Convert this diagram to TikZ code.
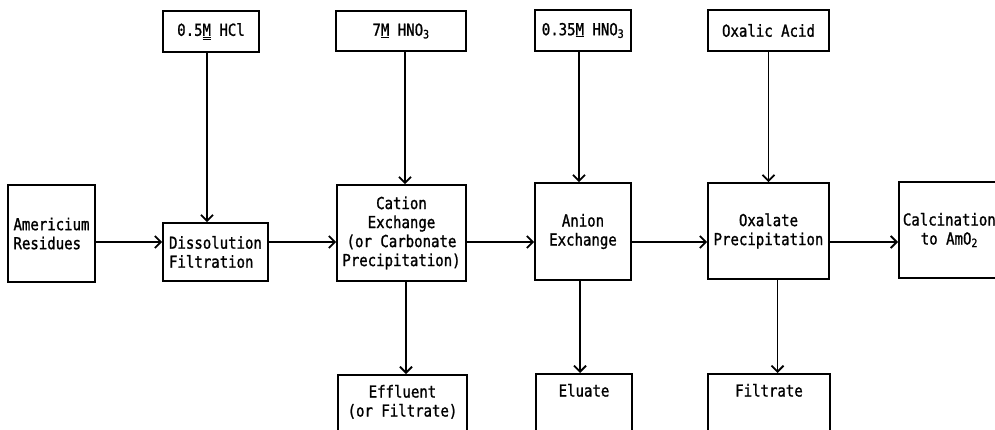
\documentclass[tikz,border=0pt]{standalone}
\usepackage{fontspec}
\usetikzlibrary{arrows.meta}
\newfontfamily\flowfont[FakeStretch=0.85,FakeBold=1.2]{DejaVu Sans Mono}
\tikzset{
  box/.style={draw, line width=1.8pt, align=center, inner sep=3pt,
    font=\flowfont\fontsize{16.5}{19}\selectfont},
  outbox/.style={box, anchor=north, inner ysep=10pt, text depth=60pt},
  flow/.style={-{Straight Barb[length=6pt,width=12pt]}, line width=1.8pt}
}
\begin{document}
\begin{tikzpicture}[x=1pt,y=-1pt]
\useasboundingbox (0,0) rectangle (995,429);
\clip (0,0) rectangle (995,429);
\coordinate (row) at (0,242);
\node[box, minimum width=96pt, minimum height=41pt] (hcl) at (211,31.5) {0.5\underline{\underline{M}} HCl};
\node[box, minimum width=130pt, minimum height=40pt] (hno) at (401,31) {7\underline{M} HNO\textsubscript{3}};
\node[box, minimum width=96pt, minimum height=41pt] (dil) at (583,30.5) {0.35\underline{M} HNO\textsubscript{3}};
\node[box, minimum width=121pt, minimum height=41pt] (oxa) at (768.5,30.5) {Oxalic Acid};
\node[box, align=left, minimum width=87pt, minimum height=97pt] (res) at (51.5,233.5) {Americium\\Residues};
\node[box, align=left, minimum width=105pt, minimum height=58pt] (dis) at (215.5,252) {Dissolution\\Filtration};
\node[box, minimum width=129pt, minimum height=96pt] (cat) at (401.5,233) {Cation\\Exchange\\(or Carbonate\\Precipitation)};
\node[box, minimum width=96pt, minimum height=97pt] (ani) at (583,231.5) {Anion\\Exchange};
\node[box, minimum width=121pt, minimum height=96pt] (oxp) at (768.5,231) {Oxalate\\Precipitation};
\node[box, anchor=west, inner xsep=4pt, minimum height=96pt] (cal) at (898,230) {Calcination\\to AmO\textsubscript{2}};
\node[outbox, minimum width=129pt] (eff) at (402.5,374) {Effluent\\(or Filtrate)};
\node[outbox, minimum width=96pt] (elu) at (584,373) {Eluate};
\node[outbox, minimum width=122pt] (fil) at (769,373) {Filtrate};
\draw[flow] ([xshift=-4pt]hcl.south) -- ([xshift=-4pt]hcl.south |- dis.north);
\draw[flow] ([xshift=4pt]hno.south) -- ([xshift=4pt]hno.south |- cat.north);
\draw[flow] ([xshift=-4pt]dil.south) -- ([xshift=-4pt]dil.south |- ani.north);
\draw[flow] (oxa) -- (oxa |- oxp.north);
\draw[flow] (res.east |- row) -- (dis.west |- row);
\draw[flow] (dis.east |- row) -- (cat.west |- row);
\draw[flow] (cat.east |- row) -- (ani.west |- row);
\draw[flow] (ani.east |- row) -- (oxp.west |- row);
\draw[flow] (oxp.east |- row) -- (cal.west |- row);
\draw[flow] ([xshift=4.5pt]cat.south) -- ([xshift=4.5pt]cat.south |- eff.north);
\draw[flow] ([xshift=-3pt]ani.south) -- ([xshift=-3pt]ani.south |- elu.north);
\draw[flow] ([xshift=9pt]oxp.south) -- ([xshift=9pt]oxp.south |- fil.north);
\end{tikzpicture}
\end{document}
